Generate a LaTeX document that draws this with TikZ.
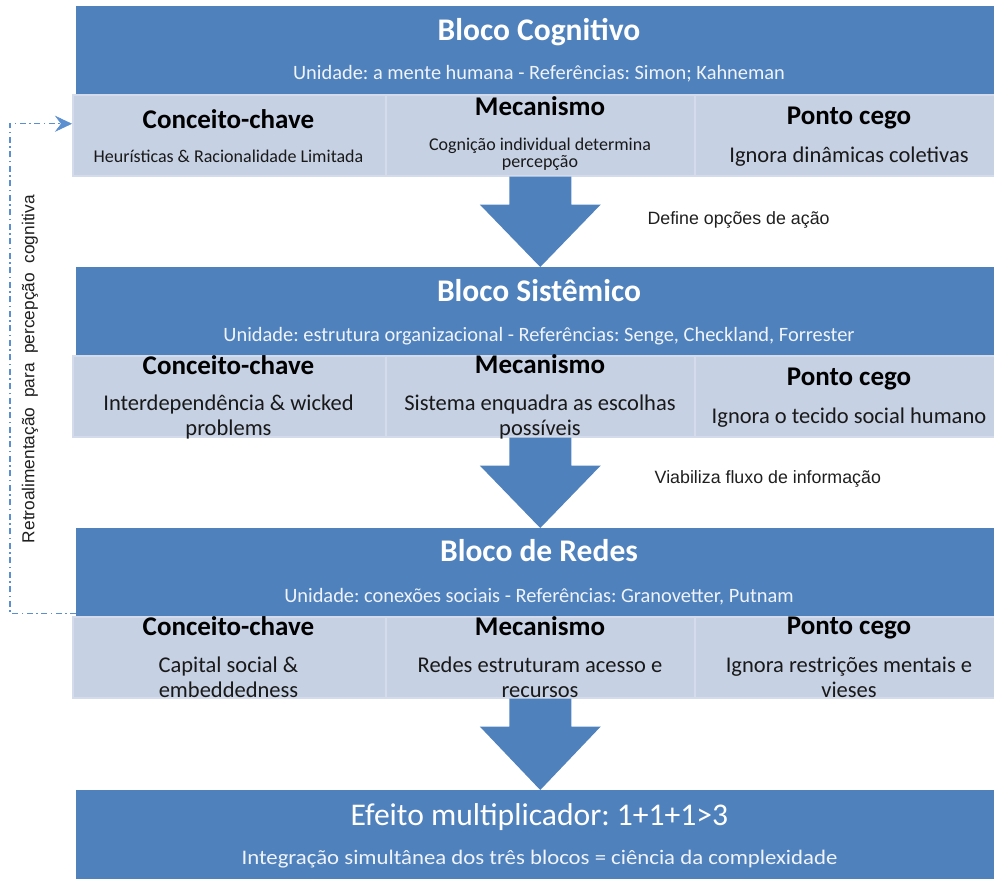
\documentclass[tikz,border=0pt]{standalone}
\usepackage{fontspec}
\usepackage{graphicx}
\setmainfont{Carlito}
\newfontfamily\arialf{Liberation Sans}
\usetikzlibrary{arrows.meta,calc}
\definecolor{hblue}{RGB}{79,129,189}
\definecolor{cellfill}{RGB}{198,209,228}
\definecolor{cellline}{RGB}{212,220,235}
\definecolor{fbcol}{RGB}{91,143,208}
\definecolor{subwhite}{RGB}{240,244,250}
\frenchspacing
\begin{document}
\begin{tikzpicture}[x=1pt,y=-1pt,
  header/.style={fill=hblue, draw=none, inner sep=0, anchor=north west, minimum height=88},
  cell/.style={fill=cellfill, draw=cellline, line width=1.5, inner sep=0, anchor=north west, minimum height=81},
  txt/.style={inner sep=0, align=center, anchor=base},
  htitle/.style={txt, text=white, font=\fontsize{31.5}{36}\selectfont\bfseries},
  hsub/.style={txt, text=subwhite, font=\fontsize{20.4}{24}\selectfont},
  ctitle/.style={txt, text=black, font=\fontsize{27}{32}\selectfont\bfseries},
  cbody/.style={txt, text=black!90, font=\fontsize{22.5}{25}\selectfont},
  cbodys/.style={txt, text=black!90, font=\fontsize{18}{16.5}\selectfont},
  alabel/.style={inner sep=0, anchor=base west, text=black!88, font=\arialf\fontsize{17.8}{21}\selectfont},
  fb/.style={draw=fbcol, line width=1.2, dash pattern=on 6pt off 3.5pt on 1.5pt off 3.5pt},
  blockarrow/.style={fill=hblue, draw=none}
]
\useasboundingbox (0,0) rectangle (994,879);

% ---------- Block 1 ----------
\node[header, minimum width=918] (h1) at (76,6) {};
\node[cell, minimum width=313] (c11) at (72,94) {};
\node[cell, minimum width=309] (c12) at (385,94) {};
\node[cell, minimum width=300] (c13) at (694,94) {};
\node[htitle] (t1) at (539,40) {Bloco Cognitivo};
\node[hsub] (s1) at (539,79) {Unidade: a mente humana - Referências: Simon; Kahneman};
\node[ctitle] (k1) at (228.5,128) {Conceito-chave};
\node[cbodys] (kb1) at (228.5,162) {Heurísticas \& Racionalidade Limitada};
\node[ctitle] (m1) at (540,115) {Mecanismo};
\node[cbodys] (mb1) at (540,167) {Cognição individual determina\\percepção};
\node[ctitle] (p1) at (849,124) {Ponto cego};
\node[cbody] (pb1) at (849,162) {Ignora dinâmicas coletivas};

% ---------- Block 2 ----------
\node[header, minimum width=918] (h2) at (76,267) {};
\node[cell, minimum width=313] (c21) at (72,355) {};
\node[cell, minimum width=309] (c22) at (385,355) {};
\node[cell, minimum width=300] (c23) at (694,355) {};
\node[htitle] (t2) at (539,301) {Bloco Sistêmico};
\node[hsub] (s2) at (539,341) {Unidade: estrutura organizacional - Referências: Senge, Checkland, Forrester};
\node[ctitle] (k2) at (228.5,374) {Conceito-chave};
\node[cbody] (kb2) at (228.5,435.5) {Interdependência \& wicked\\problems};
\node[ctitle] (m2) at (540,373) {Mecanismo};
\node[cbody] (mb2) at (540,435.5) {Sistema enquadra as escolhas\\possíveis};
\node[ctitle] (p2) at (849,385) {Ponto cego};
\node[cbody] (pb2) at (849,423) {Ignora o tecido social humano};

% ---------- Block 3 ----------
\node[header, minimum width=918] (h3) at (76,528) {};
\node[cell, minimum width=313] (c31) at (72,616) {};
\node[cell, minimum width=309] (c32) at (385,616) {};
\node[cell, minimum width=300] (c33) at (694,616) {};
\node[htitle] (t3) at (539,561.7) {Bloco de Redes};
\node[hsub] (s3) at (539,602) {Unidade: conexões sociais - Referências: Granovetter, Putnam};
\node[ctitle] (k3) at (228.5,635) {Conceito-chave};
\node[cbody] (kb3) at (228.5,697) {Capital social \&\\embeddedness};
\node[ctitle] (m3) at (540,635) {Mecanismo};
\node[cbody] (mb3) at (540,697) {Redes estruturam acesso e\\recursos};
\node[ctitle] (p3) at (849,634.5) {Ponto cego};
\node[cbody] (pb3) at (849,697) {Ignora restrições mentais e\\vieses};

% ---------- Result ----------
\node[header, minimum width=918, minimum height=89] (h4) at (76,790) {};
\node[txt, text=white, font=\fontsize{31.6}{36}\selectfont] (e1) at (539.5,825) {Efeito multiplicador: 1+1+1>3};
\node[hsub, font=\fontsize{20.7}{24}\selectfont] (e2) at (539.5,864)
  {\scalebox{1.1}[1]{Integração simultânea dos três blocos = ciência da complexidade}};

% ---------- Block arrows ----------
\foreach \src/\dst in {c12/h2, c22/h3, c32/h4}{
  \fill[blockarrow] ($(\src.south)+(-31,0)$) -- ($(\src.south)+(-31,28)$)
    -- ($(\src.south)+(-60.5,28)$) -- (\src.south |- \dst.north)
    -- ($(\src.south)+(60.5,28)$) -- ($(\src.south)+(31,28)$)
    -- ($(\src.south)+(31,0)$) -- cycle;
}
\node[alabel] (l1) at (647.3,224) {Define opções de ação};
\node[alabel] (l2) at (654.5,483.3) {Viabiliza fluxo de informação};

% ---------- Feedback loop ----------
\coordinate (fbstart) at ($(h3.south west)+(0,-3)$);
\coordinate (fbend) at ($(c11.west)+(0,-11.5)$);
\draw[fb, -{Stealth[length=17pt, width=16pt, inset=6pt, fill=fbcol, line width=0.5pt]}]
  (fbstart) -- ++(-66,0) |- (fbend);
\node[inner sep=0, rotate=90, text=black!88, font=\arialf\fontsize{17.3}{21}\selectfont] (fbl) at (30,369)
  {Retroalimentação\ \ para\ \ percepção\ \ cognitiva};
\end{tikzpicture}
\end{document}
